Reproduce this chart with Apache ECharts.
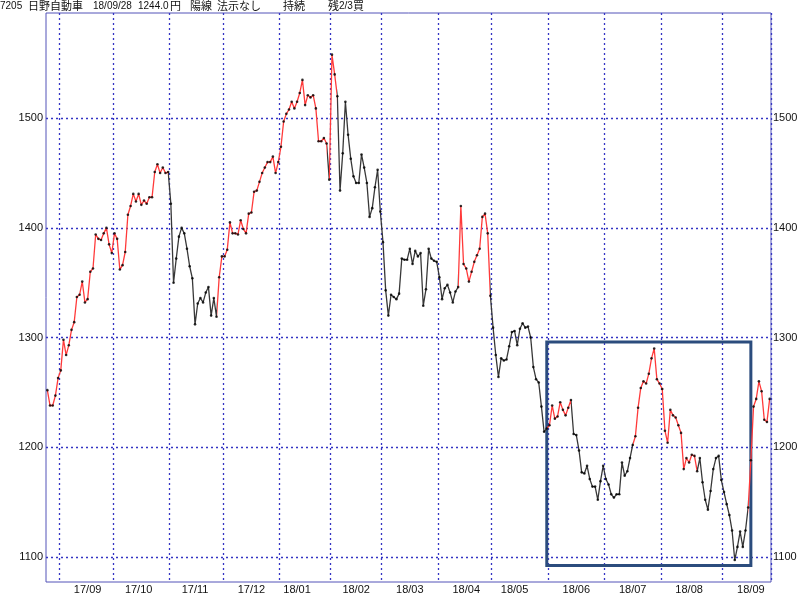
<!DOCTYPE html>
<html><head><meta charset="utf-8">
<script src="https://cdn.jsdelivr.net/npm/echarts@6/dist/echarts.min.js"></script>
<style>html,body{margin:0;padding:0;background:#fff}#c{width:800px;height:594px}</style>
</head><body><div id="c"></div>
<script>
// ---- data ----
const startDate = '2017-08-25';
const endDate = '2018-09-28';
const holidays = ['2017-09-18','2017-10-09','2017-11-03','2017-11-23','2018-01-01','2018-01-02','2018-01-03',
  '2018-01-08','2018-02-12','2018-03-21','2018-04-30','2018-05-03','2018-05-04','2018-07-16','2018-09-17','2018-09-24'];
const prices = [
 1252,1238,1238,1247,1263,1270,1298,1284,1293,1307,1314,1337,1339,1351,1332,1335,1360,1363,1394,1390,
 1389,1395,1400,1385,1377,1395,1390,1362,1366,1378,1412,1420,1431,1424,1431,1421,1425,1422,1428,1428,
 1451,1458,1450,1455,1450,1451,1422,1350,1372,1392,1400,1395,1381,1365,1354,1312,1331,1336,1332,1341,
 1346,1320,1336,1319,1355,1374,1374,1380,1405,1395,1395,1394,1407,1399,1395,1413,1414,1433,1434,1442,
 1450,1455,1460,1460,1465,1450,1460,1474,1497,1504,1508,1515,1509,1515,1523,1535,1512,1521,1519,1521,
 1509,1479,1479,1482,1477,1444,1558,1540,1520,1434,1468,1515,1485,1463,1447,1441,1441,1467,1455,1441,
 1410,1418,1437,1453,1415,1387,1343,1320,1339,1337,1335,1340,1372,1371,1371,1381,1367,1379,1374,1377,
 1329,1344,1381,1372,1370,1369,1355,1335,1345,1348,1341,1332,1342,1346,1420,1367,1363,1351,1360,1369,
 1375,1381,1410,1413,1395,1338,1309,1284,1264,1281,1279,1280,1292,1305,1306,1293,1308,1313,1309,1310,
 1300,1273,1262,1259,1237,1214,1217,1220,1238,1226,1228,1241,1234,1229,1236,1243,1212,1211,1197,1177,
 1176,1183,1171,1164,1164,1152,1169,1183,1171,1166,1157,1154,1157,1157,1186,1174,1178,1190,1202,1210,
 1236,1254,1260,1258,1267,1281,1290,1262,1258,1253,1215,1204,1234,1229,1227,1220,1213,1180,1190,1186,
 1193,1192,1178,1190,1168,1152,1143,1160,1180,1190,1192,1170,1159,1148,1138,1124,1097,1109,1123,1109,
 1124,1145,1188,1237,1244,1260,1251,1225,1223,1244
];
// index ranges drawn in red (rising phase); others black
const redRanges = [[0,45],[63,104],[105,108],[153,165],[186,195],[218,242],[261,269]];
const yTicks = [1100,1200,1300,1400,1500];
const boxX = [186, 262];
const boxY = [1092, 1296];
const headTexts = [
  {x:0, t:'7205', cjk:false},{x:28, t:'日野自動車', cjk:true},{x:93, t:'18/09/28', cjk:false},
  {x:138, t:'1244.0', cjk:false},{x:170, t:'円', cjk:true},
  {x:190, t:'陽線', cjk:true},{x:217, t:'法示なし', cjk:true},{x:283, t:'持続', cjk:true},
  {x:328, t:'残', cjk:true},{x:339, t:'2/3', cjk:false},{x:353, t:'買', cjk:true}
];

// ---- trading days ----
const hol = new Set(holidays);
const dates = [];
for (let d = new Date(startDate + 'T00:00:00Z'); d <= new Date(endDate + 'T00:00:00Z'); d.setUTCDate(d.getUTCDate()+1)) {
  const wd = d.getUTCDay();
  const s = d.toISOString().slice(0,10);
  if (wd === 0 || wd === 6 || hol.has(s)) continue;
  dates.push(s);
}
const monthStart = new Set();
const labelIdx = new Set();
const seenLabel = {};
seenLabel[dates[0].slice(0,7)] = 1; // first partial month has no label
dates.forEach((s, i) => {
  const ym = s.slice(0,7);
  if (i > 0 && dates[i-1].slice(0,7) !== ym) monthStart.add(i);
  if (+s.slice(8,10) >= 15 && !seenLabel[ym]) { seenLabel[ym] = 1; labelIdx.add(i); }
});

const RED = '#ff3a3a', BLACK = '#383838';
const pieces = [];
let prev = null;
redRanges.forEach(([a,b]) => {
  if (prev !== null && a > prev) pieces.push({gt: prev, lt: a, color: BLACK});
  pieces.push({gte: a, lte: b, color: RED});
  prev = b;
});
if (prev < prices.length - 1) pieces.push({gt: prev, lte: prices.length, color: BLACK});

const FONT = "'Liberation Sans',Arial,sans-serif";
const CJK = "'Noto Sans CJK JP',sans-serif";
const chart = echarts.init(document.getElementById('c'), null, {renderer: 'canvas'});
chart.setOption({
  animation: false,
  backgroundColor: '#fff',
  grid: {left: 46, right: 29, top: 13, bottom: 12, show: true, borderColor: '#5252b8', borderWidth: 1,
         containLabel: false, outerBoundsMode: 'none'},
  xAxis: {
    type: 'category', data: dates, boundaryGap: true,
    axisLine: {show: false}, axisTick: {show: false},
    axisLabel: {interval: (i) => labelIdx.has(i), margin: 2, fontSize: 11, color: '#111', fontFamily: FONT,
      formatter: (v) => v.slice(2,4) + '/' + v.slice(5,7)},
    splitLine: {show: true, interval: (i) => monthStart.has(i), lineStyle: {color: '#3434c4', type: [2,3], width: 1.3}}
  },
  yAxis: [
    {type: 'value', min: 1077, max: 1596, position: 'left',
     axisLine: {show: false}, axisTick: {show: false, customValues: yTicks},
     axisLabel: {customValues: yTicks, margin: 3, fontSize: 11, color: '#111', fontFamily: FONT, formatter: (v) => String(v)},
     splitLine: {show: true, lineStyle: {color: '#3434c4', type: [2,3], width: 1.3}}},
    {type: 'value', min: 1077, max: 1596, position: 'right',
     axisLine: {show: false}, axisTick: {show: false, customValues: yTicks},
     axisLabel: {customValues: yTicks, margin: 2, fontSize: 11, color: '#111', fontFamily: FONT, formatter: (v) => String(v)},
     splitLine: {show: false}}
  ],
  visualMap: {show: false, type: 'piecewise', dimension: 0, seriesIndex: 0, pieces: pieces},
  graphic: headTexts.map(h => ({type: 'text', left: h.x, top: h.cjk ? 0 : 1,
     style: {text: h.t, fontSize: h.cjk ? 11 : 10, fontFamily: h.cjk ? CJK : FONT, fill: '#111'}})),
  series: [
    {type: 'line', data: prices, showSymbol: false, symbol: 'none', lineStyle: {width: 1.3}, z: 3,
     markArea: {silent: true, itemStyle: {color: 'rgba(0,0,0,0)', borderColor: '#2b4c7d', borderWidth: 3},
       data: [[{xAxis: boxX[0], yAxis: boxY[1]}, {xAxis: boxX[1], yAxis: boxY[0]}]]}},
    {type: 'scatter', data: prices, symbol: 'circle', symbolSize: 2.6, itemStyle: {color: '#000'}, z: 4}
  ]
});
</script></body></html>
